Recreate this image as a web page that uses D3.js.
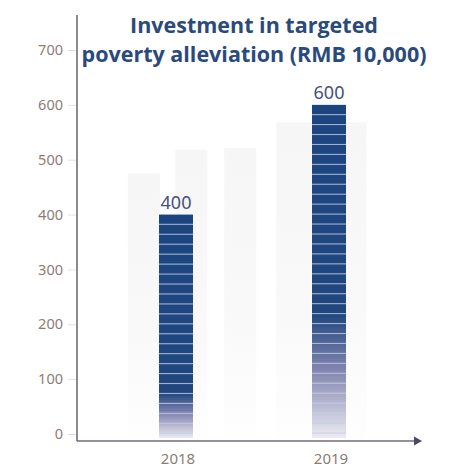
<!DOCTYPE html>
<html><head><meta charset="utf-8">
<script src="https://cdn.jsdelivr.net/npm/d3@7"></script>
<style>body{margin:0;background:#fff}svg{display:block}</style>
</head><body>
<script>
const categories = ["2018", "2019"];
const values = [400, 600];
const yTicks = [0, 100, 200, 300, 400, 500, 600, 700];
const titleLines = ["Investment in targeted", "poverty alleviation (RMB 10,000)"];
// faint decorative background columns: [index position, value, width in index units]
const ghostPos = [-0.21, 0.10, 0.42, 0.95];
const ghostVals = [475, 518, 521, 568];
const ghostWidths = [0.21, 0.21, 0.21, 0.59];
const fadeStart = [0.80, 0.63];

const W = 455, H = 468;
const svg = d3.select("body").append("svg").attr("width", W).attr("height", H);
const y = d3.scaleLinear().domain([0, 700]).range([434, 50]);
const xi = d3.scaleLinear().domain([0, 1]).range([176, 329]);
const barW = 34;
const base = y(0) + 4;

const defs = svg.append("defs");

const ghostGrad = defs.append("linearGradient").attr("id", "ghostg").attr("x1", 0).attr("y1", 0).attr("x2", 0).attr("y2", 1);
ghostGrad.append("stop").attr("offset", 0).attr("stop-color", "#f6f6f6");
ghostGrad.append("stop").attr("offset", 0.6).attr("stop-color", "#f9f9f9");
ghostGrad.append("stop").attr("offset", 1).attr("stop-color", "#fefefe");

categories.forEach((c, i) => {
  const g = defs.append("linearGradient").attr("id", "bg" + i).attr("x1", 0).attr("y1", 0).attr("x2", 0).attr("y2", 1);
  g.append("stop").attr("offset", 0).attr("stop-color", "#1c4580");
  g.append("stop").attr("offset", fadeStart[i]).attr("stop-color", "#22477f");
  g.append("stop").attr("offset", fadeStart[i] + (1 - fadeStart[i]) * 0.45).attr("stop-color", "#8286b0");
  g.append("stop").attr("offset", 1).attr("stop-color", "#eceaf2");
});

// ghost columns
svg.append("g").selectAll("rect").data(ghostVals).join("rect")
  .attr("x", (d, i) => xi(ghostPos[i]) - (xi(ghostWidths[i]) - xi(0)) / 2)
  .attr("width", (d, i) => xi(ghostWidths[i]) - xi(0))
  .attr("y", d => y(d))
  .attr("height", d => base - y(d))
  .attr("fill", "url(#ghostg)");

// bars
const bars = svg.append("g");
bars.selectAll("rect.bar").data(values).join("rect").attr("class", "bar")
  .attr("x", (d, i) => xi(i) - barW / 2)
  .attr("width", barW)
  .attr("y", d => y(d))
  .attr("height", d => base - y(d))
  .attr("fill", (d, i) => `url(#bg${i})`);
// stripes overlay
bars.selectAll("g.st").data(values).join("g").attr("class", "st").each(function (d, i) {
  const top = y(d);
  const g = d3.select(this);
  for (let yy = top + 9.2; yy < base - 2; yy += 9.95) {
    g.append("rect").attr("x", xi(i) - barW / 2).attr("width", barW)
      .attr("y", yy).attr("height", 1.1).attr("fill", "#c3cde3").attr("opacity", 0.8);
  }
});

// value labels
svg.append("g").selectAll("text").data(values).join("text")
  .attr("x", (d, i) => xi(i)).attr("y", d => y(d) - 6)
  .attr("text-anchor", "middle")
  .attr("font-family", "Noto Sans, sans-serif").attr("font-size", 18)
  .attr("fill", "#46507c").text(d => d);

// y axis
const axisColor = "#6f6a7e";
svg.append("line").attr("x1", 77).attr("x2", 77).attr("y1", 15).attr("y2", 441)
  .attr("stroke", axisColor).attr("stroke-width", 1.6);
svg.append("line").attr("x1", 77).attr("x2", 418).attr("y1", 441).attr("y2", 441)
  .attr("stroke", axisColor).attr("stroke-width", 1.6);
svg.append("path").attr("d", "M414,436.5 L422,441 L414,445.5 Z").attr("fill", "#4b4a66");

const yAxis = d3.axisLeft(y).tickValues(yTicks).tickSize(8).tickPadding(5);
const ya = svg.append("g").attr("transform", "translate(76,0)").call(yAxis);
ya.select(".domain").remove();
ya.selectAll(".tick line").attr("stroke", "#e2e0e6");
ya.selectAll(".tick text").attr("font-family", "Noto Sans, sans-serif").attr("font-size", 14.5)
  .attr("fill", "#8b7d76");

// x labels
svg.append("g").selectAll("text").data(categories).join("text")
  .attr("x", (d, i) => xi(i) + 2).attr("y", 464)
  .attr("text-anchor", "middle")
  .attr("font-family", "Noto Sans, sans-serif").attr("font-size", 15)
  .attr("fill", "#8b7d76").text(d => d);

// title
svg.append("g").selectAll("text").data(titleLines).join("text")
  .attr("x", 254).attr("y", (d, i) => 33 + i * 29)
  .attr("text-anchor", "middle")
  .attr("font-family", "Open Sans, sans-serif").attr("font-weight", 700).attr("font-size", 21.5)
  .attr("fill", "#2b4a7c").text(d => d);
</script>
</body></html>
